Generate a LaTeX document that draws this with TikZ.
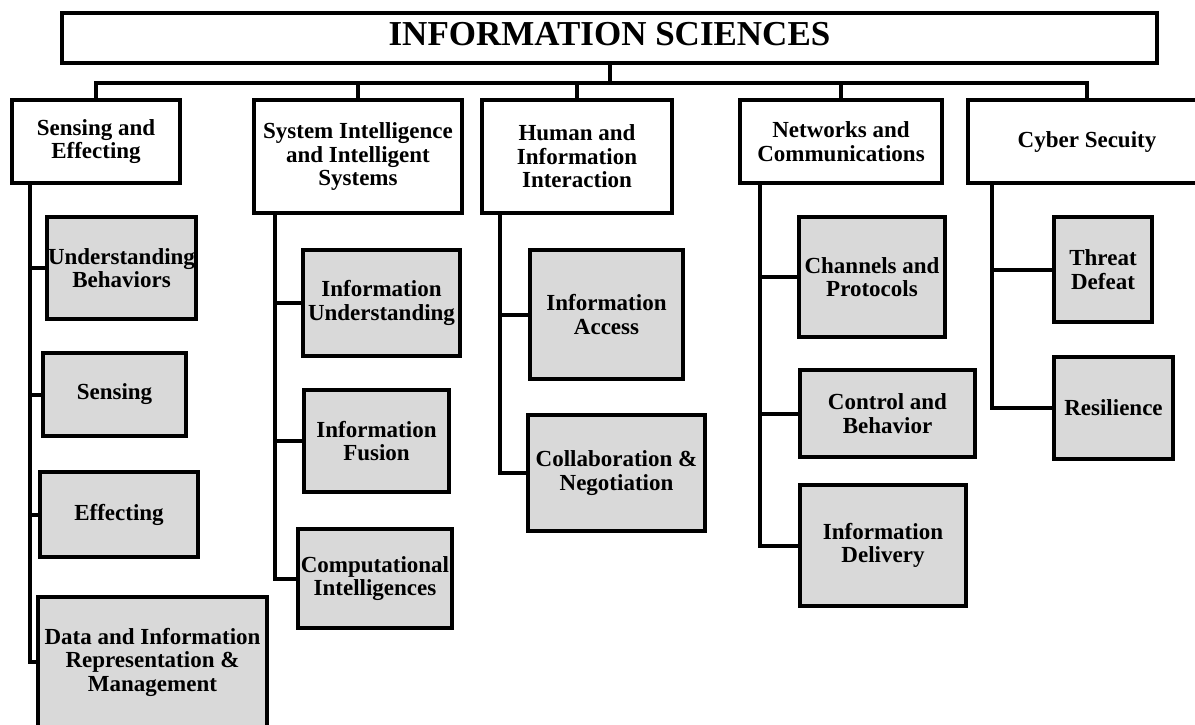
\documentclass[tikz,border=0pt]{standalone}
\usepackage{fontspec}
\setmainfont{Liberation Serif}
\usetikzlibrary{calc}
\tikzstyle{head} = [rectangle, draw=black, line width=4pt, minimum width=1095pt, minimum height=50pt, text height=23pt, text depth=9pt, inner sep=0pt, font=\fontsize{35}{40}\selectfont\bfseries]
\tikzstyle{area} = [rectangle, draw=black, line width=4pt, fill=white, inner sep=0pt, align=center, font=\fontsize{23}{23.5}\selectfont\bfseries]
\tikzstyle{topic} = [area, fill=black!15]
\tikzstyle{line} = [line width=4pt]
\begin{document}
\begin{tikzpicture}[x=1pt, y=-1pt]
		\fill [white] (0,0) rectangle (1195,724);
		\useasboundingbox (0,0) rectangle (1195,724);
		\node (Title) [head] at (609.5,38) {INFORMATION SCIENCES};
		\node (Sensing) [area, minimum width=168pt, minimum height=83pt] at (96,141.5) {Sensing and\\Effecting};
		\node (SystemIntel) [area, minimum width=208pt, minimum height=113pt] at (358,156.5) {System Intelligence\\and Intelligent\\Systems};
		\node (Human) [area, minimum width=190pt, minimum height=113pt] at (577,156.5) {Human and\\Information\\Interaction};
		\node (Networks) [area, minimum width=202pt, minimum height=83pt] at (841,141.5) {Networks and\\Communications};
		\node (Cyber) [area, minimum width=238pt, minimum height=83pt] at (1087,141.5) {Cyber Secuity};
		\node (Behaviors) [topic, minimum width=149pt, minimum height=102pt] at (121.5,268) {Understanding\\Behaviors};
		\node (SensingSub) [topic, minimum width=143pt, minimum height=83pt] at (114.5,394.5) {Sensing};
		\node (EffectingSub) [topic, minimum width=158pt, minimum height=85pt] at (119,514.5) {Effecting};
		\node (DataRep) [topic, minimum width=229pt, minimum height=130pt] at (152.5,662) {Data and Information\\Representation \&\\Management};
		\node (InfoUnderstanding) [topic, minimum width=157pt, minimum height=106pt] at (381.5,303) {Information\\Understanding};
		\node (InfoFusion) [topic, minimum width=145pt, minimum height=102pt] at (376.5,441) {Information\\Fusion};
		\node (CompIntel) [topic, minimum width=154pt, minimum height=99pt] at (375,578.5) {Computational\\Intelligences};
		\node (InfoAccess) [topic, minimum width=153pt, minimum height=129pt] at (606.5,314.5) {Information\\Access};
		\node (Collaboration) [topic, minimum width=177pt, minimum height=116pt] at (616.5,473) {Collaboration \&\\Negotiation};
		\node (Channels) [topic, minimum width=146pt, minimum height=120pt] at (872,277) {Channels and\\Protocols};
		\node (ControlBehavior) [topic, minimum width=175pt, minimum height=87pt] at (887.5,413.5) {Control and\\Behavior};
		\node (Delivery) [topic, minimum width=166pt, minimum height=121pt] at (883,545.5) {Information\\Delivery};
		\node (Threat) [topic, minimum width=98pt, minimum height=105pt] at (1103,269.5) {Threat\\Defeat};
		\node (Resilience) [topic, minimum width=119pt, minimum height=102pt] at (1113.5,408) {Resilience};
		\draw [line] (Title.south) -- ++(0,18) -| (Sensing.north);
		\draw [line] (Title.south) -- ++(0,18) -| (SystemIntel.north);
		\draw [line] (Title.south) -- ++(0,18) -| (Human.north);
		\draw [line] (Title.south) -- ++(0,18) -| (Networks.north);
		\draw [line] (Title.south) -- ++(0,18) -| (Cyber.north);
		\draw [line] ($(Sensing.south west)+(20,0)$) |- (Behaviors.west);
		\draw [line] ($(Sensing.south west)+(20,0)$) |- (SensingSub.west);
		\draw [line] ($(Sensing.south west)+(20,0)$) |- (EffectingSub.west);
		\draw [line] ($(Sensing.south west)+(20,0)$) |- (DataRep.west);
		\draw [line] ($(SystemIntel.south west)+(23,0)$) |- (InfoUnderstanding.west);
		\draw [line] ($(SystemIntel.south west)+(23,0)$) |- (InfoFusion.west);
		\draw [line] ($(SystemIntel.south west)+(23,0)$) |- (CompIntel.west);
		\draw [line] ($(Human.south west)+(20,0)$) |- (InfoAccess.west);
		\draw [line] ($(Human.south west)+(20,0)$) |- (Collaboration.west);
		\draw [line] ($(Networks.south west)+(22,0)$) |- (Channels.west);
		\draw [line] ($(Networks.south west)+(22,0)$) |- (ControlBehavior.west);
		\draw [line] ($(Networks.south west)+(22,0)$) |- (Delivery.west);
		\draw [line] ($(Cyber.south west)+(26,0)$) |- (Threat.west);
		\draw [line] ($(Cyber.south west)+(26,0)$) |- (Resilience.west);
\end{tikzpicture}
\end{document}
